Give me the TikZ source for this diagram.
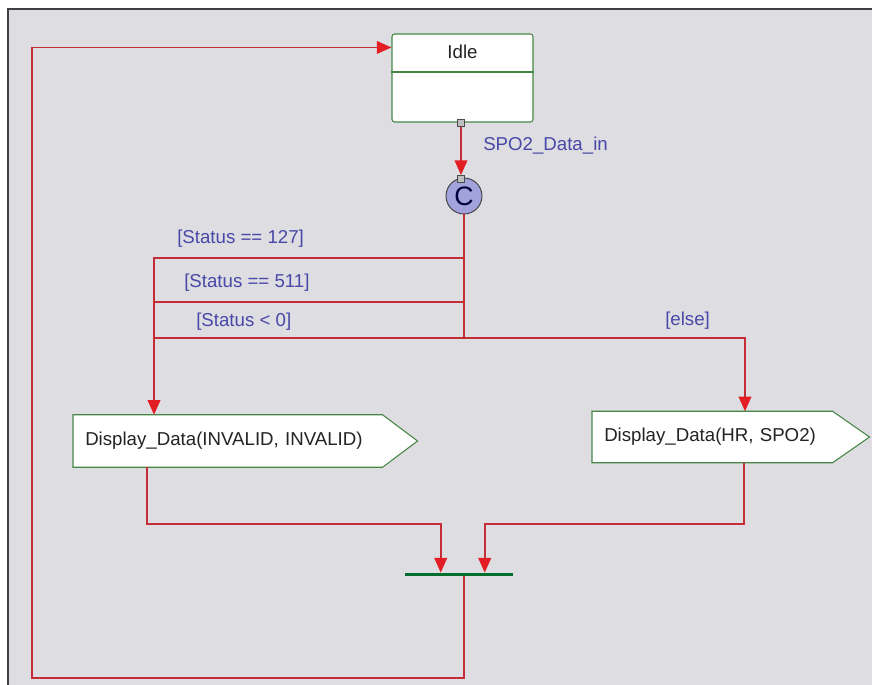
\documentclass[tikz,border=0pt]{standalone}
\usepackage{fontspec}
\setmainfont{Liberation Sans}
\usetikzlibrary{arrows.meta,calc}
\definecolor{bgc}{RGB}{222,221,226}
\definecolor{wirec}{RGB}{196,44,54}
\definecolor{tipc}{RGB}{226,30,36}
\definecolor{lblc}{RGB}{72,72,168}
\definecolor{boxc}{RGB}{70,135,70}
\definecolor{barc}{RGB}{0,110,45}
\definecolor{connc}{RGB}{162,162,220}
\definecolor{txtc}{RGB}{35,35,35}
\pgfdeclarelayer{back}
\pgfsetlayers{back,main}
\tikzset{
  wire/.style={draw=wirec, line width=1.3pt},
  arr/.style={-{Triangle[width=9.5pt,length=11pt,color=tipc,fill=tipc]}},
  lbl/.style={anchor=west, text=lblc, font=\fontsize{14}{16}\selectfont, inner sep=0pt},
  sig/.style={anchor=west, draw=none, inner ysep=0pt, inner xsep=9pt, align=left,
              text=txtc, font=\fontsize{14}{16}\selectfont},
  sigline/.style={draw=boxc, line width=0.8pt, fill=white},
  port/.style={draw=black!70, fill=black!25, line width=0.5pt, minimum size=5.5pt, inner sep=0pt},
}
\begin{document}
\begin{tikzpicture}[x=0.75pt,y=-0.75pt]
\useasboundingbox (0,0) rectangle (872,685);
\begin{pgfonlayer}{back}
\fill[white] (0,0) rectangle (872,685);
\fill[bgc] (8,9) rectangle (872,685);
\draw[line width=1.8pt, black!75] (8,685) -- (8,9) -- (872,9);
\end{pgfonlayer}

% Idle state
\node[draw=boxc, fill=white, line width=0.8pt, rounded corners=2pt,
      minimum width=105.75pt, minimum height=66pt, inner sep=0pt] (idle) at (462.5,78) {};
\draw[draw=boxc, line width=0.8pt] (idle.west |- 0,72) -- (idle.east |- 0,72);
\node[text=txtc, font=\fontsize{14}{16}\selectfont, inner sep=0pt] (idlet) at (462.5,52) {Idle};

% connector
\node[circle, draw=black!75, fill=connc, line width=0.7pt, minimum size=27pt, inner sep=0pt,
      text=black!75!blue, font=\fontsize{20}{20}\selectfont] (cj) at (464,196) {C};
\node[port] (p1) at (461,123) {};
\node[port] (p2) at (461,179) {};
\draw[wire, arr] (p1.south) -- (p2.north);
\node[lbl] (ev) at (483,146) {SPO2\_Data\_in};

% action boxes
\node[sig, minimum height=39pt, text width=213.75pt] (inv) at (73,441)
  {Display\_Data(INVALID, INVALID)};
\node[sig, minimum height=38.25pt, text width=162pt] (hr) at (592,437)
  {Display\_Data(HR, SPO2)};
\begin{pgfonlayer}{back}
\draw[sigline] (inv.north west) -- (inv.north east) -- ($(inv.east)+(35,0)$)
   -- (inv.south east) -- (inv.south west) -- cycle;
\draw[sigline] (hr.north west) -- (hr.north east) -- ($(hr.east)+(37,0)$)
   -- (hr.south east) -- (hr.south west) -- cycle;
\end{pgfonlayer}

% branches
\coordinate (b1) at (464,258);
\coordinate (b2) at (464,302);
\coordinate (b3) at (464,338);
\coordinate (invin) at ($(inv.north west)+(81,0)$);
\coordinate (hrin) at ($(hr.north west)+(153,0)$);
\draw[wire] (cj.south) -- (b3);
\draw[wire, arr] (b1) -| (invin);
\draw[wire] (b2) -- (b2 -| invin);
\draw[wire] (b3) -- (b3 -| invin);
\draw[wire, arr] (b3) -| (hrin);
\node[lbl] (g1) at (177,239) {[Status == 127]};
\node[lbl] (g2) at (184,283) {[Status == 511]};
\node[lbl] (g3) at (196,322) {[Status < 0]};
\node[lbl] (g4) at (665,321) {[else]};

% join
\node[fill=barc, minimum width=81pt, minimum height=2.4pt, inner sep=0pt] (join) at (459,574.5) {};
\coordinate (jl) at ($(join.north west)+(36,0)$);
\coordinate (jr) at ($(join.north west)+(80,0)$);
\coordinate (invout) at ($(inv.south west)+(74,0)$);
\coordinate (hrout) at ($(hr.south west)+(152,0)$);
\draw[wire, arr] (invout) -- ++(0,57) -| (jl);
\draw[wire, arr] (hrout) -- ++(0,61) -| (jr);

% return loop
\coordinate (jo) at ($(join.south west)+(59,0)$);
\coordinate (lb) at (32,678);
\coordinate (idlein) at ($(idle.north west)+(0,14)$);
\draw[wire, arr] (jo) |- (lb) |- (idlein);
\end{tikzpicture}
\end{document}
